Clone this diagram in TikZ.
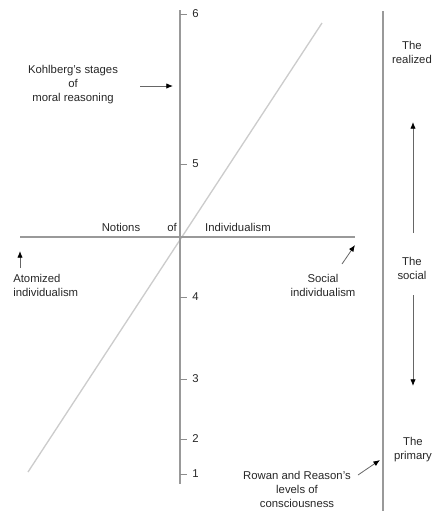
\documentclass[tikz,border=0pt]{standalone}
\usepackage{fontspec}
\setmainfont{Liberation Sans}
\usetikzlibrary{arrows.meta}

\tikzset{
  axisline/.style={draw=black!40, line width=1.3pt},
  diagline/.style={draw=black!20, line width=1pt},
  lbl/.style={inner sep=0.75pt, align=center, text=black!85, font=\fontsize{8.5}{10.5}\selectfont},
  pointer/.style={draw=black!60, line width=0.6pt, -{Latex[length=5pt,width=4pt,black]}},
}

\begin{document}
\begin{tikzpicture}[x=0.75pt,y=0.75pt,yscale=-1,xscale=1]
\useasboundingbox (0,0) rectangle (433,515);

%Axes
\coordinate (vtop) at (180,10);
\coordinate (vbot) at (180,484);
\coordinate (hleft) at (20,237);
\coordinate (hright) at (355,237);
\coordinate (dlow) at (28,472);
\coordinate (dhigh) at (322,23);
\coordinate (rtop) at (383,11);
\coordinate (rbot) at (383,511);
\draw [diagline] (dlow) -- (dhigh);
\draw [axisline] (vtop) -- (vbot);
\draw [axisline] (hleft) -- (hright);
\draw [axisline] (rtop) -- (rbot);

%Ticks of the stages
\foreach \v/\y in {6/14,5/164,4/297,3/379,2/439,1/474} {
  \coordinate (t\v) at (180,\y);
  \draw [draw=black!45, line width=0.6pt] (t\v) -- ++(7,0) node [lbl, anchor=west, xshift=3pt] (tick\v) {\v};
}

% Text Node
\node [lbl, anchor=south] (notions) at (121,233) {Notions};
\node [lbl, anchor=south] (of) at (172,233) {of};
\node [lbl, anchor=south] (indiv) at (238,233) {Individualism};

% Text Node
\node [lbl] (kohlberg) at (73,85) {Kohlberg's stages\\of\\moral reasoning};
\coordinate (kfrom) at (140,86);
\coordinate (kto) at (173,86);
\draw [pointer] (kfrom) -- (kto);

% Text Node
\node [lbl, anchor=north west, align=left] (atomized) at (12,273) {Atomized\\individualism};
\coordinate (afrom) at (20,268);
\coordinate (ato) at (20,251);
\draw [pointer] (afrom) -- (ato);

% Text Node
\node [lbl] (social) at (323,285) {Social\\individualism};
\coordinate (sfrom) at (342,264);
\coordinate (sto) at (355,245);
\draw [pointer] (sfrom) -- (sto);

% Text Node
\node [lbl] (rowan) at (297,489) {Rowan and Reason's\\levels of\\consciousness};
\coordinate (rfrom) at (358,475);
\coordinate (rto) at (380,460);
\draw [pointer] (rfrom) -- (rto);

% Text Node
\node [lbl] (realized) at (412,52) {The\\realized};
\node [lbl] (thesocial) at (412,268) {The\\social};
\node [lbl] (primary) at (413,450) {The\\primary};
\coordinate (upfrom) at (413,233);
\coordinate (upto) at (413,122);
\coordinate (dnfrom) at (413,295);
\coordinate (dnto) at (413,386);
\draw [pointer] (upfrom) -- (upto);
\draw [pointer] (dnfrom) -- (dnto);

\end{tikzpicture}
\end{document}
